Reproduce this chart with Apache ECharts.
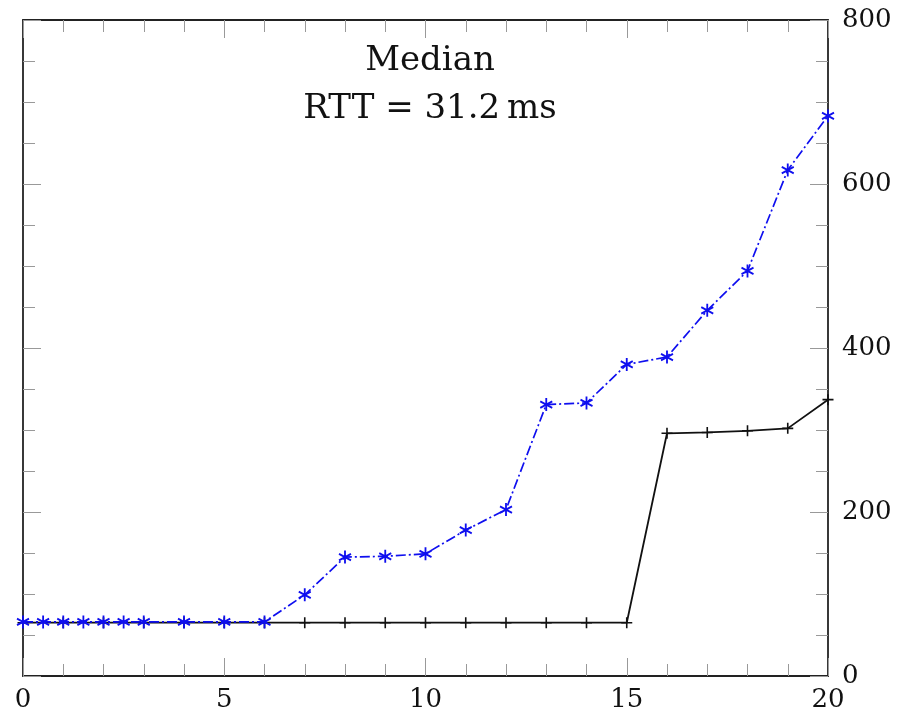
<!DOCTYPE html>
<html>
<head>
<meta charset="utf-8">
<script src="https://cdn.jsdelivr.net/npm/echarts@6/dist/echarts.min.js"></script>
<style>
html,body{margin:0;padding:0;background:#fff;}
#chart{width:909px;height:714px;}
</style>
</head>
<body>
<div id="chart"></div>
<script>
var titleLines = ['Median', 'RTT = 31.2\u2009ms'];
var xTickLabels = ['0', '5', '10', '15', '20'];
var yTickLabels = ['0', '200', '400', '600', '800'];

var blueX = [0, 0.5, 1, 1.5, 2, 2.5, 3, 4, 5, 6, 7, 8, 9, 10, 11, 12, 13, 14, 15, 16, 17, 18, 19, 20];
var blueY = [66, 66, 66, 66, 66, 66, 66, 66, 66, 66, 99, 145, 146, 149, 178, 203, 331, 333, 380, 389, 446, 494, 617, 683];

var blackX = [0, 1, 2, 3, 4, 5, 6, 7, 8, 9, 10, 11, 12, 13, 14, 15, 16, 17, 18, 19, 20];
var blackY = [65, 65, 65, 65, 65, 65, 65, 65, 65, 65, 65, 65, 65, 65, 65, 65, 296, 297, 299, 302, 337];

function pairs(xs, ys) { return xs.map(function (x, i) { return [x, ys[i]]; }); }

var FONT = 'DejaVu Serif';
var axisLineStyle = { color: '#222', width: 1.8 };
var tickStyle = { color: '#999', width: 1 };

var chart = echarts.init(document.getElementById('chart'), null, { renderer: 'canvas' });

function xAx(pos, showLabel) {
  return {
    type: 'value', position: pos, min: 0, max: 20, interval: 5,
    axisLine: { show: true, onZero: false, lineStyle: axisLineStyle },
    axisTick: { show: true, inside: true, length: 18, lineStyle: tickStyle },
    minorTick: { show: true, splitNumber: 5, length: 12, lineStyle: tickStyle },
    splitLine: { show: false }, minorSplitLine: { show: false },
    axisLabel: {
      show: showLabel, margin: 11, fontFamily: FONT, fontSize: 26, color: '#111',
      formatter: function (v) { var i = xTickLabels.indexOf(String(v)); return i >= 0 ? xTickLabels[i] : ''; }
    }
  };
}
function yAx(pos, showLabel) {
  return {
    type: 'value', position: pos, min: 0, max: 800, interval: 200,
    axisLine: { show: true, onZero: false, lineStyle: axisLineStyle },
    axisTick: { show: true, inside: true, length: 18, lineStyle: tickStyle },
    minorTick: { show: true, splitNumber: 4, length: 12, lineStyle: tickStyle },
    splitLine: { show: false }, minorSplitLine: { show: false },
    axisLabel: {
      show: showLabel, margin: 14, fontFamily: FONT, fontSize: 26, color: '#111',
      formatter: function (v) { var i = yTickLabels.indexOf(String(v)); return i >= 0 ? yTickLabels[i] : ''; }
    }
  };
}

var starPath = 'path://M50,0L50,100M6.7,25L93.3,75M6.7,75L93.3,25';
var plusPath = 'path://M50,0L50,100M0,50L100,50';

chart.setOption({
  animation: false,
  backgroundColor: '#fff',
  title: {
    text: titleLines.join('\n'),
    left: 425, top: 32, textAlign: 'center',
    textStyle: { fontFamily: FONT, fontSize: 34, fontWeight: 'normal', color: '#111', lineHeight: 48 }
  },
  grid: { left: 23, right: 81, top: 20, bottom: 38, containLabel: false },
  xAxis: [xAx('bottom', true), xAx('top', false)],
  yAxis: [yAx('right', true), yAx('left', false)],
  series: [
    {
      type: 'line', xAxisIndex: 0, yAxisIndex: 0,
      data: pairs(blackX, blackY),
      symbol: plusPath, symbolSize: 11,
      lineStyle: { color: '#111', width: 1.8 },
      itemStyle: { color: '#111', borderColor: '#111', borderWidth: 1.6 },
      z: 2
    },
    {
      type: 'line', xAxisIndex: 0, yAxisIndex: 0,
      data: pairs(blueX, blueY),
      symbol: starPath, symbolSize: [12, 13],
      lineStyle: { color: '#0f0fef', width: 1.7, type: [10, 3, 2, 3] },
      itemStyle: { color: '#0f0fef', borderColor: '#0f0fef', borderWidth: 1.9 },
      z: 3
    }
  ]
});
</script>
</body>
</html>
